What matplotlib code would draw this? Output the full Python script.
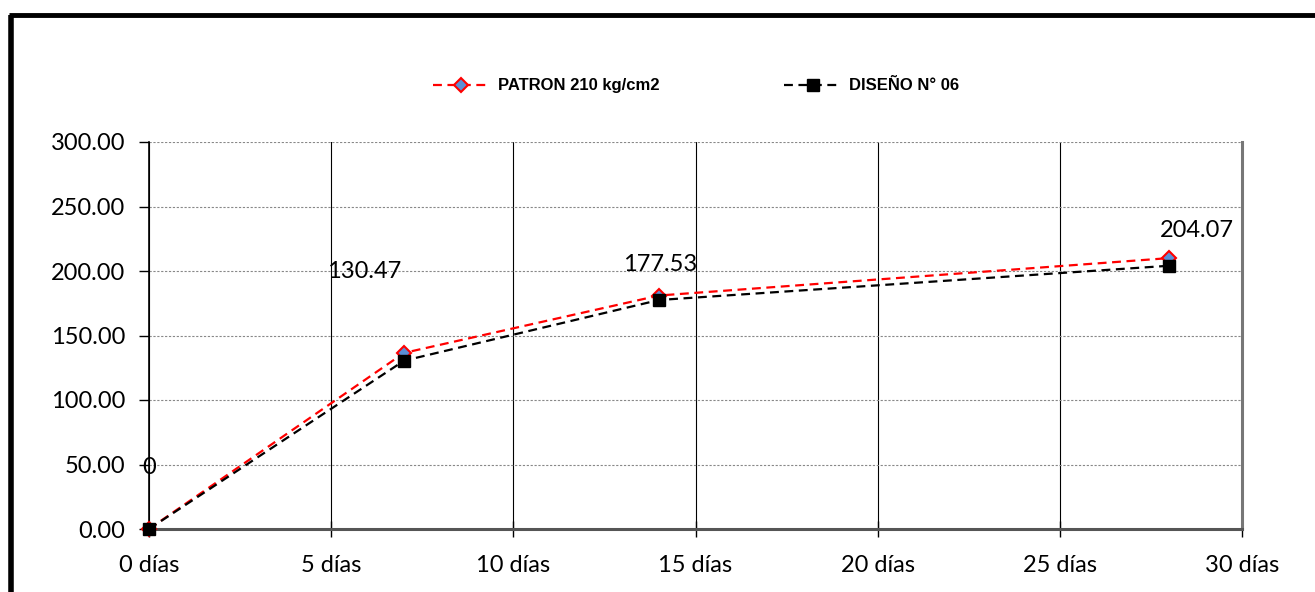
import matplotlib.pyplot as plt
from matplotlib.lines import Line2D

# datos
dias = [0, 7, 14, 28]
patron = [0, 136.5, 181, 210]
diseno = [0, 130.47, 177.53, 204.07]
etiquetas = ['0', '130.47', '177.53', '204.07']
x_ticks = [0, 5, 10, 15, 20, 25, 30]
x_labels = ['0 días', '5 días', '10 días', '15 días', '20 días', '25 días', '30 días']
y_ticks = [0, 50, 100, 150, 200, 250, 300]

# desplazamiento de cada etiqueta (pixeles) respecto al punto
offsets = [(0, 62), (-40, 89), (1, 35), (28, 35)]

fig = plt.figure(figsize=(13.15, 5.92), dpi=100, facecolor='white')
ax = fig.add_axes([149 / 1315, 1 - 529 / 592, (1242 - 149) / 1315, (529 - 142) / 592])

# borde exterior grueso (solo izquierda y arriba visibles)
fig.add_artist(Line2D([10.5 / 1315, 10.5 / 1315], [0, 1 - 15 / 592], color='black', lw=4,
                      transform=fig.transFigure, solid_capstyle='butt'))
fig.add_artist(Line2D([9 / 1315, 1], [1 - 15 / 592, 1 - 15 / 592], color='black', lw=3.5,
                      transform=fig.transFigure, solid_capstyle='butt'))

ax.plot(dias, patron, color='red', ls='--', lw=1.6, marker='D', ms=7.5,
        mfc='#5b8fd6', mec='red', mew=1.5, dashes=(4, 2.5), label='PATRON 210 kg/cm2',
        zorder=4, clip_on=False)
ax.plot(dias, diseno, color='black', ls='--', lw=1.6, marker='s', ms=9,
        mfc='black', mec='black', dashes=(4, 2.5), label='DISEÑO N° 06', zorder=5, clip_on=False)

for x, y, t, (dx, dy) in zip(dias, diseno, etiquetas, offsets):
    ax.annotate(t, (x, y), xytext=(dx * 0.72, dy * 0.72), textcoords='offset points',
                ha='center', va='center', fontsize=17, family=['Lato', 'DejaVu Sans'])

ax.set_xlim(0, 30)
ax.set_ylim(0, 300)
ax.set_xticks(x_ticks)
ax.set_xticklabels(x_labels)
ax.set_yticks(y_ticks)
ax.set_yticklabels([f'{v:.2f}' for v in y_ticks])
for lab in ax.get_xticklabels() + ax.get_yticklabels():
    lab.set_family(['Lato', 'DejaVu Sans'])
    lab.set_fontsize(17)

ax.grid(axis='y', color='#888888', ls=(0, (2, 1.5)), lw=0.8)
ax.grid(axis='x', color='black', ls='-', lw=0.8)
ax.spines['top'].set_visible(False)
ax.spines['left'].set_color('black')
ax.spines['left'].set_linewidth(1.2)
ax.spines['bottom'].set_color('#555555')
ax.spines['bottom'].set_linewidth(2.2)
ax.spines['right'].set_color('#777777')
ax.spines['right'].set_linewidth(2.2)
ax.tick_params(axis='y', direction='out', length=7, width=1, pad=10)
ax.tick_params(axis='x', direction='inout', length=12, width=1, pad=13)

fig.legend(loc='center', bbox_to_anchor=(696 / 1315, 1 - 86 / 592), ncol=2, frameon=False,
           handlelength=3.4, handletextpad=0.5, columnspacing=7.5,
           prop={'family': ['Liberation Sans Narrow', 'Liberation Sans'], 'weight': 'bold', 'size': 12})

plt.savefig('out.png', dpi=100, facecolor='white')
